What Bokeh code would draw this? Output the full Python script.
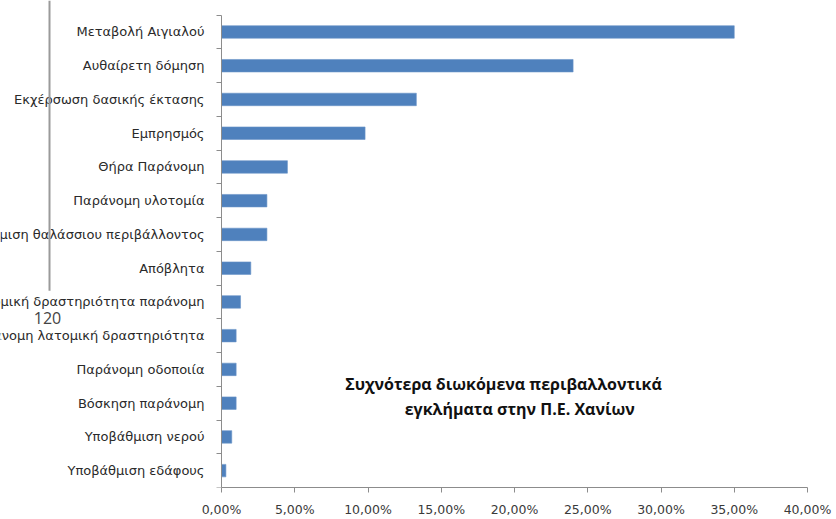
from bokeh.plotting import figure
from bokeh.models import (ColumnDataSource, Range1d, FixedTicker, Label, Arrow, LinearAxis)
from bokeh.embed import file_html
from bokeh.resources import INLINE

# ---- data ----
categories = [
    "Μεταβολή Αιγιαλού",
    "Αυθαίρετη δόμηση",
    "Εκχέρσωση δασικής έκτασης",
    "Εμπρησμός",
    "Θήρα Παράνομη",
    "Παράνομη υλοτομία",
    "Υποβάθμιση θαλάσσιου περιβάλλοντος",
    "Απόβλητα",
    "Λατομική δραστηριότητα παράνομη",
    "Παράνομη λατομική δραστηριότητα",
    "Παράνομη οδοποιία",
    "Βόσκηση παράνομη",
    "Υποβάθμιση νερού",
    "Υποβάθμιση εδάφους",
]
values = [35.0, 24.0, 13.3, 9.8, 4.5, 3.1, 3.1, 2.0, 1.3, 1.0, 1.0, 1.0, 0.7, 0.3]
x_ticks = [0, 5, 10, 15, 20, 25, 30, 35, 40]
x_tick_labels = ["0,00%", "5,00%", "10,00%", "15,00%", "20,00%", "25,00%", "30,00%", "35,00%", "40,00%"]
title_lines = ["Συχνότερα διωκόμενα περιβαλλοντικά", "εγκλήματα  στην Π.Ε. Χανίων"]
page_number = "120"

n = len(categories)
idx = list(range(n))

# layout (pixels): axis origin at 221, 40% at 807, plot top 14.6, x axis at 487
W, H = 836, 519
ax_left, ax_right, ax_top, ax_bottom = 221, 807, 14.6, 487
px_per_x = (ax_right - ax_left) / 40.0
px_per_y = (ax_bottom - ax_top) / n
x_start = -ax_left / px_per_x
y_end = -0.5 - ax_top / px_per_y

src = ColumnDataSource(dict(cat=categories, val=values, y=idx, zero=[0] * n))

p = figure(width=W, height=H, output_backend="svg", toolbar_location=None,
           x_range=Range1d(x_start, 40), y_range=Range1d(n - 0.5, y_end),
           x_axis_location=None, y_axis_location=None,
           min_border_left=0, min_border_right=W - ax_right, min_border_top=0,
           min_border_bottom=H - ax_bottom)
p.outline_line_color = None
p.xgrid.grid_line_color = None
p.ygrid.grid_line_color = None
p.background_fill_color = "white"
p.border_fill_color = "white"

p.hbar(y="y", left="zero", right="val", height=0.37, source=src,
       fill_color="#4f81bd", line_color="#6a94c8", line_width=0.6)

# x axis
xa = LinearAxis(bounds=(0, 40))
xa.ticker = FixedTicker(ticks=x_ticks)
xa.major_label_overrides = {t: l for t, l in zip(x_ticks, x_tick_labels)}
xa.axis_line_color = "#8c8c8c"
xa.major_tick_line_color = "#8c8c8c"
xa.major_tick_in = 0
xa.major_tick_out = 5
xa.minor_tick_line_color = None
xa.major_label_text_font = "DejaVu Sans"
xa.major_label_text_font_size = "12.5px"
xa.major_label_text_color = "#3a3a3a"
xa.major_label_standoff = 9
p.add_layout(xa, "below")

# y axis at x = 0: category labels at centres, tick marks between categories
ya = LinearAxis(fixed_location=0, bounds=(-0.5, n - 0.5))
ya.ticker = FixedTicker(ticks=idx, minor_ticks=[i - 0.5 for i in range(n + 1)])
ya.major_label_overrides = {i: c for i, c in zip(idx, categories)}
ya.axis_line_color = "#8c8c8c"
ya.major_tick_line_color = None
ya.major_tick_in = 0
ya.major_tick_out = 0
ya.minor_tick_line_color = "#8c8c8c"
ya.minor_tick_in = 0
ya.minor_tick_out = 5
ya.major_label_standoff = 12
ya.major_label_text_font = "DejaVu Sans"
ya.major_label_text_font_size = "13px"
ya.major_label_text_color = "#2a2a2a"
p.add_layout(ya, "left")

# title inside plot
p.add_layout(Label(x=19.25, y=10.43, text=title_lines[0], text_align="center", text_baseline="middle",
                   text_font="Open Sans", text_font_style="bold", text_font_size="16px", text_color="#111111"))
p.add_layout(Label(x=20.5, y=11.17, text=title_lines[1], text_align="center", text_baseline="middle",
                   text_font="Open Sans", text_font_style="bold", text_font_size="16px", text_color="#111111"))

# page artifacts (scanned page): vertical rule and page number
p.add_layout(Arrow(end=None, x_start=-11.74, x_end=-11.74, y_start=y_end, y_end=7.67,
                   line_color="#9a9a9a", line_width=2))
p.add_layout(Label(x=-11.88, y=8.47, text=page_number, text_align="center", text_baseline="middle",
                   text_font="Open Sans", text_font_size="16px", text_color="#444444"))

open("out.html", "w").write(file_html(p, INLINE))
